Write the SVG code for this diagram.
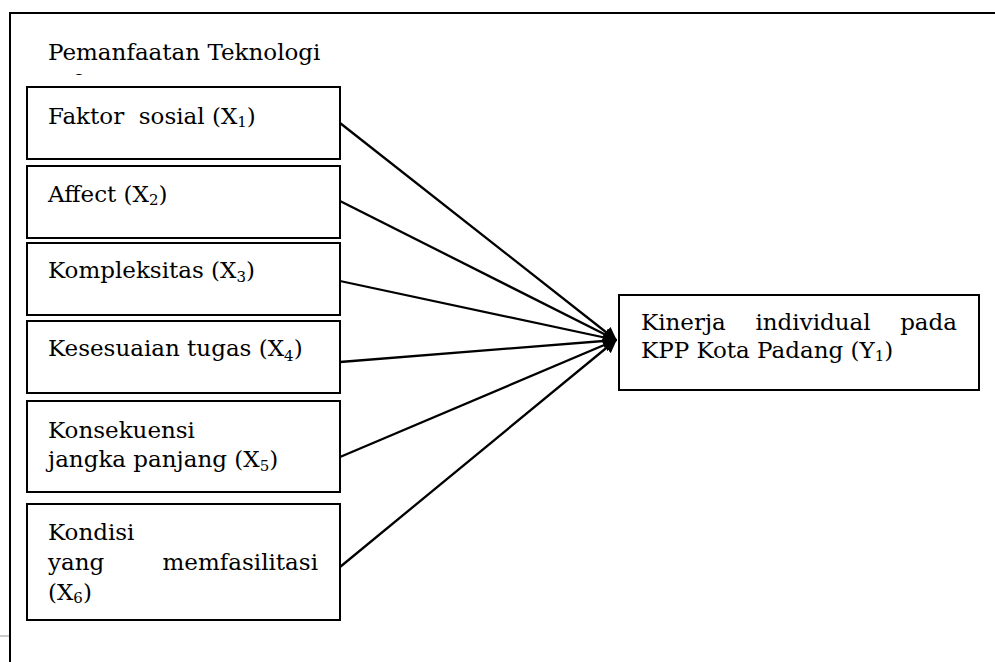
<svg xmlns="http://www.w3.org/2000/svg" width="995" height="662" viewBox="0 0 995 662">
<defs>
<style>
.box{fill:#fff;stroke:#000;stroke-width:2}
.t{font-family:"DejaVu Serif","Liberation Serif",serif;font-size:23px;fill:#000;white-space:pre}
.s{font-size:15px}
.con{stroke:#000;stroke-width:2.3;fill:none;marker-end:url(#ah)}
</style>
<marker id="ah" viewBox="0 0 10 10" refX="9" refY="5" markerWidth="6" markerHeight="6" orient="auto" markerUnits="strokeWidth">
<path d="M0,0 L10,5 L0,10 z" fill="#000"/>
</marker>
<clipPath id="clipInfo">
<rect x="40" y="66" width="300" height="9"/>
</clipPath>
</defs>
<rect width="995" height="662" fill="#fff"/>
<g id="frame">
<path d="M10,662 V13 H995" fill="none" stroke="#000" stroke-width="2"/>
<line x1="0" y1="636" x2="9" y2="636" stroke="#ccc" stroke-width="2"/>
<text class="t" x="48" y="60">Pemanfaatan Teknologi</text>
<text class="t" x="48" y="91" clip-path="url(#clipInfo)">Informasi</text>
</g>
<g id="connectors">
<line class="con" x1="340" y1="123" x2="616" y2="340"/>
<line class="con" x1="340" y1="201" x2="616" y2="340"/>
<line class="con" x1="340" y1="281" x2="616" y2="340"/>
<line class="con" x1="340" y1="362" x2="616" y2="340"/>
<line class="con" x1="340" y1="457" x2="616" y2="340"/>
<line class="con" x1="340" y1="567" x2="616" y2="340"/>
</g>
<g id="x1">
<rect class="box" x="27" y="87" width="313" height="72"/>
<text class="t" x="48" y="124" xml:space="preserve">Faktor  sosial (X<tspan class="s" dy="3">1</tspan><tspan dy="-3">)</tspan></text>
</g>
<g id="x2">
<rect class="box" x="27" y="166" width="313" height="72"/>
<text class="t" x="48" y="202">Affect (X<tspan class="s" dy="3">2</tspan><tspan dy="-3">)</tspan></text>
</g>
<g id="x3">
<rect class="box" x="27" y="243" width="313" height="72"/>
<text class="t" x="48" y="278">Kompleksitas (X<tspan class="s" dy="4">3</tspan><tspan dy="-4">)</tspan></text>
</g>
<g id="x4">
<rect class="box" x="27" y="321" width="313" height="72"/>
<text class="t" x="48" y="356">Kesesuaian tugas (X<tspan class="s" dy="5">4</tspan><tspan dy="-5">)</tspan></text>
</g>
<g id="x5">
<rect class="box" x="27" y="401" width="313" height="91"/>
<text class="t" x="48" y="438">Konsekuensi</text>
<text class="t" x="48" y="467">jangka panjang (X<tspan class="s" dy="4">5</tspan><tspan dy="-4">)</tspan></text>
</g>
<g id="x6">
<rect class="box" x="27" y="504" width="313" height="116"/>
<text class="t" x="48" y="540">Kondisi</text>
<text class="t" x="48" y="570">yang</text>
<text class="t" x="318" y="570" text-anchor="end">memfasilitasi</text>
<text class="t" x="48" y="600">(X<tspan class="s" dy="3">6</tspan><tspan dy="-3">)</tspan></text>
</g>
<g id="y1">
<rect class="box" x="619" y="295" width="360" height="95"/>
<text class="t" x="641" y="330">Kinerja</text>
<text class="t" x="813" y="330" text-anchor="middle">individual</text>
<text class="t" x="957" y="330" text-anchor="end">pada</text>
<text class="t" x="641" y="358">KPP Kota Padang (Y<tspan class="s" dy="3">1</tspan><tspan dy="-3">)</tspan></text>
</g>
</svg>
